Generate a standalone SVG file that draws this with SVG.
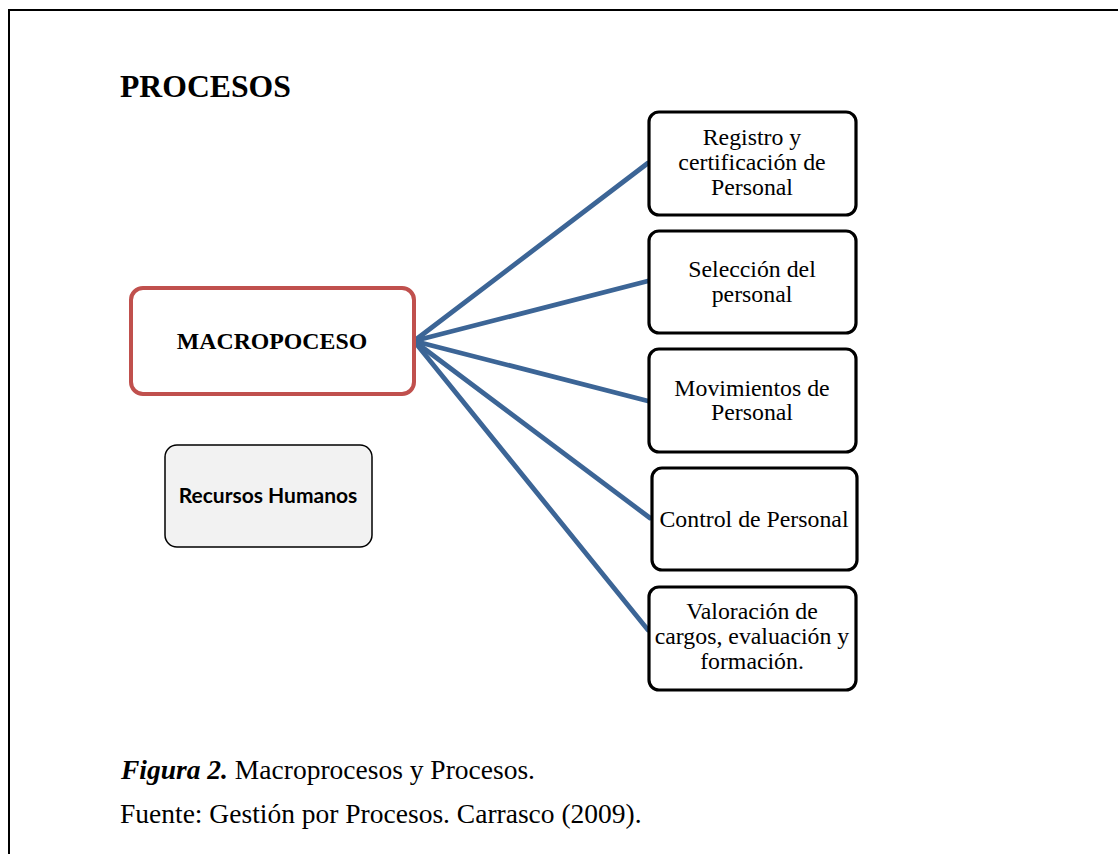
<svg xmlns="http://www.w3.org/2000/svg" width="1118" height="854" viewBox="0 0 1118 854">
  <style>
    .serif { font-family: "Liberation Serif", "Times New Roman", serif; fill: #000; }
    .proc rect { fill: #fff; stroke: #000; stroke-width: 3.2; }
    .proc text { font-family: "Liberation Serif", "Times New Roman", serif; font-size: 23.8px; text-anchor: middle; fill: #000; }
    .link { stroke: #3C6596; stroke-width: 4.8; fill: none; stroke-linecap: round; }
  </style>
  <rect width="1118" height="854" fill="#fff"/>
  <!-- page frame: open on the right and bottom -->
  <path d="M9 854 V10 H1118" fill="none" stroke="#000" stroke-width="2"/>

  <text x="120" y="97" class="serif" font-size="31.7" font-weight="bold">PROCESOS</text>

  <g id="connectors">
    <line class="link" x1="414" y1="341" x2="648" y2="163"/>
    <line class="link" x1="414" y1="341" x2="648" y2="281"/>
    <line class="link" x1="414" y1="341" x2="648" y2="401"/>
    <line class="link" x1="414" y1="341" x2="650" y2="518"/>
    <line class="link" x1="414" y1="341" x2="648" y2="630"/>
  </g>

  <g id="macroproceso">
    <rect x="131" y="288" width="283" height="106" rx="12" fill="#fff" stroke="#C0504D" stroke-width="4"/>
    <text x="272" y="349" class="serif" font-size="23.8" font-weight="bold" text-anchor="middle">MACROPOCESO</text>
  </g>

  <g id="recursos-humanos">
    <rect x="165" y="445" width="207" height="102" rx="12" fill="#F2F2F2" stroke="#000" stroke-width="1.5"/>
    <text x="268" y="503" font-family="Lato, 'Open Sans', sans-serif" font-size="21" font-weight="bold" text-anchor="middle" fill="#000">Recursos Humanos</text>
  </g>

  <g id="registro" class="proc">
    <rect x="649" y="112" width="207" height="103" rx="10"/>
    <text x="752" y="145">Registro y</text>
    <text x="752" y="170">certificación de</text>
    <text x="752" y="195">Personal</text>
  </g>

  <g id="seleccion" class="proc">
    <rect x="649" y="231" width="207" height="102" rx="10"/>
    <text x="752" y="277">Selección del</text>
    <text x="752" y="302">personal</text>
  </g>

  <g id="movimientos" class="proc">
    <rect x="649" y="349" width="207" height="103" rx="10"/>
    <text x="752" y="396">Movimientos de</text>
    <text x="752" y="420">Personal</text>
  </g>

  <g id="control" class="proc">
    <rect x="652" y="468" width="205" height="102" rx="10"/>
    <text x="754" y="527">Control de Personal</text>
  </g>

  <g id="valoracion" class="proc">
    <rect x="649" y="587" width="207" height="103" rx="10"/>
    <text x="752" y="619">Valoración de</text>
    <text x="752" y="644">cargos, evaluación y</text>
    <text x="752" y="669">formación.</text>
  </g>

  <text x="121" y="779" class="serif" font-size="27.5"><tspan font-weight="bold" font-style="italic">Figura 2.</tspan> Macroprocesos y Procesos.</text>
  <text x="120" y="823" class="serif" font-size="27.5">Fuente: Gestión por Procesos. Carrasco (2009).</text>
</svg>
